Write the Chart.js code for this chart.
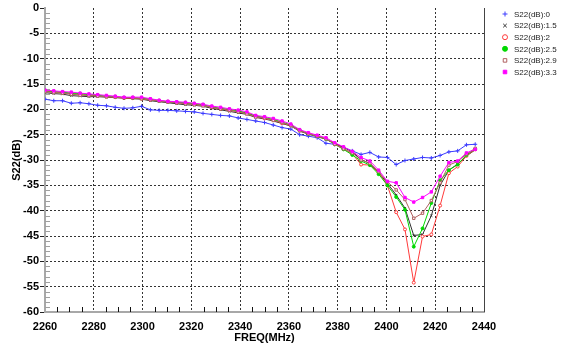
<!DOCTYPE html>
<html>
<head>
<meta charset="utf-8">
<script src="https://cdn.jsdelivr.net/npm/chart.js@4"></script>
<style>
  html, body { margin: 0; padding: 0; background: #fff; }
  canvas { display: block; }
</style>
</head>
<body>
<canvas id="grafico" width="566" height="349"></canvas>
<script>
// frequency sweep (MHz)
const freq = [2260, 2263.6, 2267.2, 2270.8, 2274.4, 2278, 2281.6, 2285.2, 2288.8, 2292.4,
  2296, 2299.6, 2303.2, 2306.8, 2310.4, 2314, 2317.6, 2321.2, 2324.8, 2328.4,
  2332, 2335.6, 2339.2, 2342.8, 2346.4, 2350, 2353.6, 2357.2, 2360.8, 2364.4,
  2368, 2371.6, 2375.2, 2378.8, 2382.4, 2386, 2389.6, 2393.2, 2396.8, 2400.4,
  2404, 2407.6, 2411.2, 2414.8, 2418.4, 2422, 2425.6, 2429.2, 2432.8, 2436.4];

// S22 in dB for each setting
const s22_0 = [-18.0, -18.3, -18.3, -18.8, -18.7, -18.9, -19.2, -19.3, -19.6, -19.8,
  -19.7, -19.4, -20.1, -20.2, -20.2, -20.3, -20.4, -20.5, -20.8, -21.0,
  -21.2, -21.3, -21.7, -22.0, -22.3, -22.6, -23.1, -23.6, -23.9, -25.0,
  -25.3, -25.6, -26.7, -26.9, -27.5, -28.2, -28.9, -28.5, -29.4, -29.5,
  -30.9, -30.1, -29.8, -29.5, -29.6, -29.1, -28.4, -28.2, -27.0, -26.9];
const s22_15 = [-16.7, -16.9, -17.0, -17.3, -17.4, -17.5, -17.5, -17.6, -17.7, -17.8,
  -17.9, -18.0, -18.3, -18.5, -18.7, -18.9, -19.1, -19.2, -19.4, -19.8,
  -20.1, -20.4, -20.7, -21.0, -21.6, -21.9, -22.3, -22.8, -23.3, -24.3,
  -24.9, -25.4, -25.9, -26.8, -27.5, -28.4, -29.9, -30.7, -32.5, -34.6,
  -36.9, -39.5, -44.9, -44.7, -41.0, -35.0, -32.0, -30.8, -29.2, -28.0];
const s22_2 = [-16.4, -16.6, -16.7, -16.9, -17.1, -17.2, -17.3, -17.5, -17.6, -17.8,
  -17.8, -17.9, -18.1, -18.3, -18.5, -18.7, -18.8, -19.0, -19.2, -19.6,
  -19.9, -20.2, -20.4, -20.8, -21.4, -21.8, -22.1, -22.7, -23.2, -24.2,
  -24.8, -25.3, -25.8, -26.8, -27.8, -28.8, -30.9, -31.0, -32.5, -35.0,
  -40.3, -43.7, -54.2, -45.1, -44.7, -39.0, -32.6, -31.3, -29.2, -27.9];
const s22_25 = [-16.3, -16.5, -16.6, -16.8, -16.9, -17.1, -17.2, -17.4, -17.5, -17.7,
  -17.7, -17.8, -18.0, -18.3, -18.5, -18.6, -18.7, -18.9, -19.1, -19.5,
  -19.8, -20.0, -20.3, -20.7, -21.3, -21.6, -22.0, -22.5, -23.1, -24.1,
  -24.8, -25.3, -25.8, -26.9, -27.9, -29.0, -30.2, -31.0, -32.8, -35.0,
  -37.3, -39.8, -47.1, -43.5, -38.5, -34.0, -32.0, -30.9, -29.0, -27.8];
const s22_29 = [-16.5, -16.7, -16.8, -17.0, -17.2, -17.3, -17.4, -17.5, -17.6, -17.7,
  -17.7, -17.9, -18.1, -18.4, -18.6, -18.7, -18.9, -19.1, -19.3, -19.6,
  -19.9, -20.2, -20.5, -20.9, -21.5, -21.7, -22.2, -22.6, -23.2, -24.2,
  -24.8, -25.3, -25.8, -26.9, -27.8, -28.6, -30.0, -30.6, -32.3, -34.3,
  -35.9, -37.8, -41.5, -40.5, -38.0, -34.5, -31.0, -30.3, -28.8, -27.7];
const s22_33 = [-16.2, -16.35, -16.5, -16.6, -16.8, -16.95, -17.1, -17.25, -17.4, -17.6,
  -17.6, -17.6, -17.9, -18.2, -18.4, -18.5, -18.6, -18.8, -19.0, -19.35,
  -19.6, -19.9, -20.15, -20.5, -21.2, -21.45, -21.8, -22.3, -22.9, -24.0,
  -24.6, -25.1, -25.6, -26.6, -27.4, -28.3, -29.5, -30.2, -32.0, -34.2,
  -34.5, -37.4, -38.3, -37.4, -36.3, -33.2, -30.5, -30.2, -28.6, -27.9];

const seriesLabels = ['S22(dB):0', 'S22(dB):1.5', 'S22(dB):2', 'S22(dB):2.5', 'S22(dB):2.9', 'S22(dB):3.3'];

const FONTE = '"Liberation Sans", Arial, sans-serif';

// later series are painted over the earlier ones
function serie(label, data, cor, estilo, fundo, ordem, raio) {
    return {
        label: label,
        data: data,
        order: ordem,
        borderColor: cor,
        borderWidth: 1,
        pointStyle: estilo,
        pointRadius: raio,
        pointBorderWidth: 1,
        pointBorderColor: cor,
        pointBackgroundColor: fundo,
        tension: 0
    };
}

// legend drawn at the right of the plot, one row per series
const legendaLateral = {
    id: 'legendaLateral',
    afterDraw(chart) {
        const ctx = chart.ctx;
        ctx.save();
        ctx.font = '8px ' + FONTE;
        ctx.textBaseline = 'middle';
        chart.data.datasets.forEach((ds, k) => {
            const y = 14 + k * 11.6;
            ctx.strokeStyle = ds.pointBorderColor;
            ctx.fillStyle = ds.pointBackgroundColor;
            ctx.lineWidth = 1;
            Chart.helpers.drawPoint(ctx, { pointStyle: ds.pointStyle, rotation: 0, radius: 2.5, borderWidth: 1 }, 505, y);
            ctx.fillStyle = '#222';
            ctx.fillText(ds.label, 514, y + 0.5);
        });
        ctx.restore();
    }
};

// minor ticks inside the plot + solid right frame
const ticksMenores = {
    id: 'ticksMenores',
    beforeDatasetsDraw(chart) {
        const { ctx, chartArea: a, scales } = chart;
        ctx.save();
        ctx.lineWidth = 1;
        ctx.strokeStyle = '#a0a0a0';
        ctx.beginPath();
        for (let v = -59; v < 0; v++) {
            if (v % 5 === 0) continue;
            const y = Math.round(scales.y.getPixelForValue(v)) + 0.5;
            ctx.moveTo(a.left, y);
            ctx.lineTo(a.left + 5, y);
        }
        ctx.stroke();
        ctx.strokeStyle = '#111';
        ctx.beginPath();
        for (let f = 2265; f < 2440; f += 5) {
            if (f % 20 === 0) continue;
            const x = Math.round(scales.x.getPixelForValue(f)) + 0.5;
            ctx.moveTo(x, a.bottom);
            ctx.lineTo(x, a.bottom - 5);
        }
        ctx.stroke();
        ctx.strokeStyle = '#444';
        ctx.beginPath();
        ctx.moveTo(Math.round(a.right) + 0.5, a.top);
        ctx.lineTo(Math.round(a.right) + 0.5, a.bottom);
        ctx.stroke();
        ctx.restore();
    }
};

const ctx = document.getElementById('grafico').getContext('2d');

new Chart(ctx, {
    type: 'line',
    data: {
        labels: freq,
        datasets: [
            serie(seriesLabels[0], s22_0, '#3c3cff', 'cross', '#3c3cff', 5, 2),
            serie(seriesLabels[1], s22_15, '#303030', 'crossRot', '#303030', 4, 1.5),
            serie(seriesLabels[2], s22_2, '#ff3a3a', 'circle', '#ffffff', 3, 1.5),
            serie(seriesLabels[3], s22_25, '#00d800', 'circle', '#00d800', 2, 1.5),
            serie(seriesLabels[4], s22_29, '#b06060', 'rect', '#ffffff', 1, 1.7),
            serie(seriesLabels[5], s22_33, '#ff00ff', 'rect', '#ff00ff', 0, 1.7)
        ]
    },
    options: {
        responsive: false,
        animation: false,
        devicePixelRatio: 1,
        layout: { padding: { top: 8, right: 82, bottom: 0, left: 0 } },
        plugins: {
            legend: { display: false },
            tooltip: { enabled: false }
        },
        scales: {
            x: {
                type: 'linear',
                min: 2260,
                max: 2440,
                afterFit: (s) => { s.height = 37; },
                ticks: {
                    stepSize: 20,
                    padding: 2,
                    maxRotation: 0,
                    color: '#000',
                    callback: (v) => String(v),
                    font: { family: FONTE, size: 11, weight: 'bold' }
                },
                grid: {
                    color: (c) => (c.tick && (c.tick.value === 2260 || c.tick.value === 2440)) ? 'rgba(0,0,0,0)' : '#333',
                    lineWidth: 1,
                    tickLength: 6,
                    tickColor: 'rgba(0,0,0,0)'
                },
                border: { display: true, color: '#a8a8a8', width: 2, dash: [2, 2] },
                title: {
                    display: true,
                    text: 'FREQ(MHz)',
                    color: '#000',
                    padding: { top: 0, bottom: 4 },
                    font: { family: FONTE, size: 11, weight: 'bold' }
                }
            },
            y: {
                min: -60,
                max: 0,
                afterFit: (s) => { s.width = 45; },
                ticks: {
                    stepSize: 5,
                    padding: 1,
                    color: '#000',
                    font: { family: FONTE, size: 11, weight: 'bold' }
                },
                grid: {
                    color: (c) => (c.tick && (c.tick.value === 0 || c.tick.value === -60)) ? 'rgba(0,0,0,0)' : '#333',
                    lineWidth: 1,
                    tickLength: 5,
                    tickColor: '#222'
                },
                border: { display: true, color: '#a8a8a8', width: 2, dash: [2, 2] },
                title: {
                    display: true,
                    text: 'S22(dB)',
                    color: '#000',
                    padding: { top: 10, bottom: 0 },
                    font: { family: FONTE, size: 11, weight: 'bold' }
                }
            }
        }
    },
    plugins: [ticksMenores, legendaLateral]
});
</script>
</body>
</html>
